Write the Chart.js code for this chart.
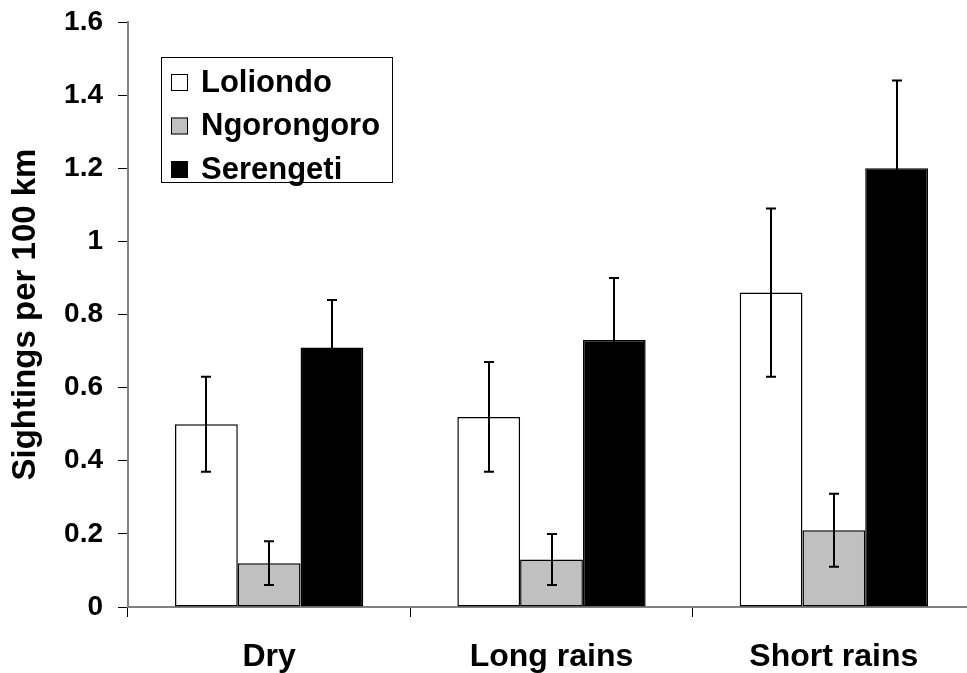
<!DOCTYPE html>
<html>
<head>
<meta charset="utf-8">
<script src="https://cdn.jsdelivr.net/npm/chart.js@4.4.1/dist/chart.umd.min.js"></script>
<style>
  html, body { margin: 0; padding: 0; background: #fff; overflow: hidden; }
  #wrap { width: 967px; height: 673px; overflow: hidden; position: relative; }
  #box { width: 980px; height: 673px; position: absolute; left: 0; top: 0; }
</style>
</head>
<body>
<div id="wrap"><div id="box"><canvas id="c"></canvas></div></div>
<script>
const seasons = ['Dry', 'Long rains', 'Short rains'];
const seriesNames = ['Loliondo', 'Ngorongoro', 'Serengeti'];
const loliondo = [0.50, 0.52, 0.86];
const ngorongoro = [0.12, 0.13, 0.21];
const serengeti = [0.71, 0.73, 1.20];
// standard errors shown as whiskers
const loliondoErr = [0.13, 0.15, 0.23];
const ngorongoroErr = [0.06, 0.07, 0.10];
const serengetiErr = [0.13, 0.17, 0.24];
const yTicks = [0, 0.2, 0.4, 0.6, 0.8, 1, 1.2, 1.4, 1.6];

const FONT = '"Liberation Sans", Arial, sans-serif';
const fills = ['#FFFFFF', '#C0C0C0', '#000000'];

const errorBars = {
  id: 'errorBars',
  afterDatasetsDraw(chart) {
    const ctx = chart.ctx;
    const y = chart.scales.y;
    ctx.save();
    ctx.strokeStyle = '#000';
    ctx.lineWidth = 2;
    chart.data.datasets.forEach((ds, di) => {
      const meta = chart.getDatasetMeta(di);
      meta.data.forEach((bar, i) => {
        const v = ds.data[i], e = ds.err[i];
        const x = Math.round(bar.x);
        const yt = y.getPixelForValue(v + e);
        const yb = y.getPixelForValue(v - e);
        ctx.beginPath();
        ctx.moveTo(x, yt); ctx.lineTo(x, yb);
        ctx.moveTo(x - 5, yt); ctx.lineTo(x + 5, yt);
        ctx.moveTo(x - 5, yb); ctx.lineTo(x + 5, yb);
        ctx.stroke();
      });
    });
    ctx.restore();
  }
};

const boxLegend = {
  id: 'boxLegend',
  afterDraw(chart) {
    const ctx = chart.ctx;
    const left = 161, top = 57, w = 231, h = 125;
    ctx.save();
    ctx.fillStyle = '#fff';
    ctx.fillRect(left, top, w, h);
    ctx.strokeStyle = '#000';
    ctx.lineWidth = 1;
    ctx.strokeRect(left + 0.5, top + 0.5, w, h);
    ctx.font = 'bold 31px ' + FONT;
    ctx.textBaseline = 'middle';
    chart.data.datasets.forEach((ds, i) => {
      const cy = 82 + i * 43.5;
      ctx.fillStyle = ds.backgroundColor;
      ctx.fillRect(171, cy - 8, 17, 17);
      ctx.strokeStyle = '#000';
      ctx.strokeRect(171.5, cy - 7.5, 16, 16);
      ctx.fillStyle = '#000';
      ctx.fillText(ds.label, 201, cy + 1);
    });
    ctx.restore();
  }
};

const datasets = [loliondo, ngorongoro, serengeti].map((d, i) => ({
  label: seriesNames[i],
  data: d,
  err: [loliondoErr, ngorongoroErr, serengetiErr][i],
  backgroundColor: fills[i],
  borderColor: '#000',
  borderWidth: 1.5,
  borderSkipped: false,
  categoryPercentage: 0.667,
  barPercentage: 1.0
}));

new Chart(document.getElementById('c'), {
  type: 'bar',
  data: { labels: seasons, datasets },
  options: {
    responsive: true,
    maintainAspectRatio: false,
    animation: false,
    layout: { padding: { top: 22, right: 5, left: 0, bottom: 0 } },
    plugins: { legend: { display: false }, tooltip: { enabled: false } },
    scales: {
      x: {
        grid: { offset: true, drawOnChartArea: false, tickLength: 10, color: '#000', lineWidth: 1 },
        border: { color: '#808080', width: 2 },
        ticks: { color: '#000', font: { family: FONT, size: 32, weight: 'bold' }, padding: 21 },
        afterFit(s) { s.height = 66; }
      },
      y: {
        min: 0, max: 1.6,
        afterBuildTicks(s) { s.ticks = yTicks.map(v => ({ value: v })); },
        grid: { drawOnChartArea: false, tickLength: 10, color: '#000', lineWidth: 1 },
        border: { color: '#808080', width: 2 },
        ticks: { color: '#000', font: { family: FONT, size: 28, weight: 'bold' }, padding: 15,
                 callback: v => String(v) },
        title: { display: true, text: 'Sightings per 100 km', color: '#000',
                 font: { family: FONT, size: 33, weight: 'bold' }, padding: { top: 6, bottom: 0 } },
        afterFit(s) { s.width = 128; s.paddingTop = 0; s.paddingBottom = 0; }
      }
    }
  },
  plugins: [errorBars, boxLegend]
});
</script>
</body>
</html>
